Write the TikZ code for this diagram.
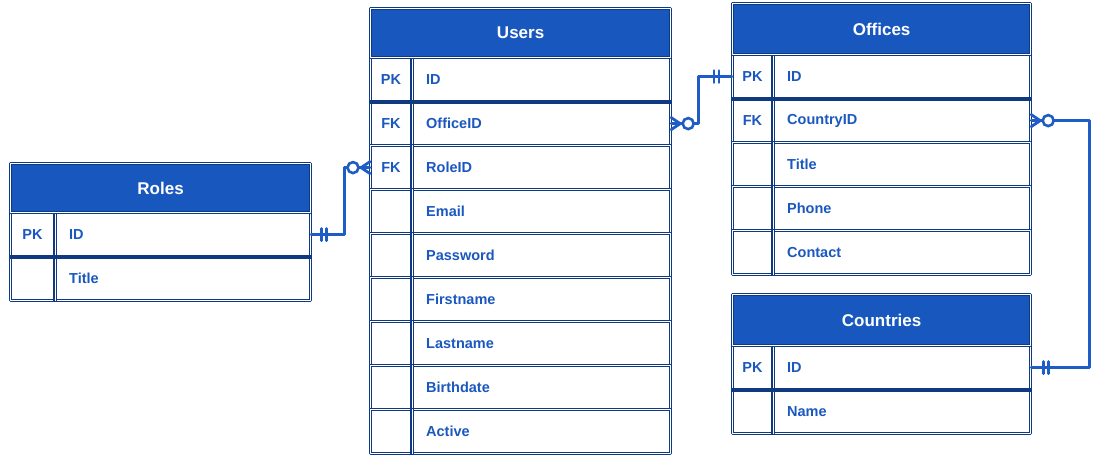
\documentclass[tikz,border=0pt]{standalone}
\usepackage{fontspec}
\setmainfont{Liberation Sans}
\definecolor{navy}{HTML}{0F3A82}
\definecolor{hblue}{HTML}{1757BE}
\definecolor{tblue}{HTML}{1A58C0}
\definecolor{cblue}{HTML}{1E5CC6}
\newcommand{\erow}[8]{%
  \node[rowbox, minimum width=#4pt, minimum height=#5pt, anchor=north west] (#1) at (#2,#3) {};
  \draw[border] ([xshift=#6pt]#1.north west) -- ([xshift=#6pt]#1.south west);
  \node[keytext] at ([xshift=#6pt/2]#1.west) {#7};
  \node[fieldtext] at ([xshift=#6pt+14pt]#1.west) {#8};
}
\begin{document}
\begin{tikzpicture}[x=1pt,y=-1pt,
  border/.style={draw=navy, line width=1.2pt, double=white, double distance=0.9pt, line join=round},
  rowbox/.style={border, fill=white, rectangle, inner sep=0pt},
  header/.style={border, fill=hblue, rectangle, inner sep=0pt, anchor=north west, text=white, font=\bfseries\fontsize{17}{20}\selectfont},
  keytext/.style={text=tblue, font=\bfseries\fontsize{14.5}{16}\selectfont, inner sep=0pt},
  fieldtext/.style={text=tblue, font=\bfseries\fontsize{14.5}{16}\selectfont, inner sep=0pt, anchor=west},
  pksep/.style={draw=navy, line width=3.5pt},
  conn/.style={draw=cblue, line width=2.8pt, line cap=round, line join=round},
  circ/.style={draw=cblue, line width=2.6pt, fill=white}
]
\useasboundingbox (0,0) rectangle (1101,468);

% Roles
\erow{roles-id}{10}{212}{300}{44}{45}{PK}{ID}
\erow{roles-title}{10}{256}{300}{44}{45}{}{Title}
\node[header, minimum width=300pt, minimum height=49pt] (roles) at (10,163) {Roles};
\draw[pksep] (roles-id.south west) -- (roles-id.south east);

% Users
\erow{users-id}{370}{57}{300}{44}{42}{PK}{ID}
\erow{users-officeid}{370}{101}{300}{44}{42}{FK}{OfficeID}
\erow{users-roleid}{370}{145}{300}{44}{42}{FK}{RoleID}
\erow{users-email}{370}{189}{300}{44}{42}{}{Email}
\erow{users-password}{370}{233}{300}{44}{42}{}{Password}
\erow{users-firstname}{370}{277}{300}{44}{42}{}{Firstname}
\erow{users-lastname}{370}{321}{300}{44}{42}{}{Lastname}
\erow{users-birthdate}{370}{365}{300}{44}{42}{}{Birthdate}
\erow{users-active}{370}{409}{300}{44}{42}{}{Active}
\node[header, minimum width=300pt, minimum height=49pt] (users) at (370,8) {Users};
\draw[pksep] (users-id.south west) -- (users-id.south east);

% Offices
\erow{offices-id}{732}{54}{298}{44}{41}{PK}{ID}
\erow{offices-countryid}{732}{98}{298}{44}{41}{FK}{CountryID}
\erow{offices-title}{732}{142}{298}{44}{41}{}{Title}
\erow{offices-phone}{732}{186}{298}{44}{41}{}{Phone}
\erow{offices-contact}{732}{230}{298}{44}{41}{}{Contact}
\node[header, minimum width=298pt, minimum height=51pt] (offices) at (732,3) {Offices};
\draw[pksep] (offices-id.south west) -- (offices-id.south east);

% Countries
\erow{countries-id}{732}{345}{298}{44}{41}{PK}{ID}
\erow{countries-name}{732}{389}{298}{44}{41}{}{Name}
\node[header, minimum width=298pt, minimum height=51pt] (countries) at (732,294) {Countries};
\draw[pksep] (countries-id.south west) -- (countries-id.south east);

% Connectors
\draw[conn] (roles-id.east) -- ++(33,0) |- (users-roleid.west);
\draw[conn] (users-officeid.east) -- ++(27,0) |- (offices-id.west);
\draw[conn] (offices-countryid.east) -- ++(58,0) |- (countries-id.east);

% one-and-only-one bars
\draw[conn] ([xshift=10pt]roles-id.east) +(0,-6) -- +(0,6);
\draw[conn] ([xshift=15pt]roles-id.east) +(0,-6) -- +(0,6);
\draw[conn] ([xshift=-13pt]offices-id.west) +(0,-6) -- +(0,6);
\draw[conn] ([xshift=-18pt]offices-id.west) +(0,-6) -- +(0,6);
\draw[conn] ([xshift=12pt]countries-id.east) +(0,-6) -- +(0,6);
\draw[conn] ([xshift=17pt]countries-id.east) +(0,-6) -- +(0,6);

% zero-or-many: crow's feet
\draw[conn] ([yshift=6pt]users-roleid.west) -- ([xshift=-9pt]users-roleid.west) -- ([yshift=-6pt]users-roleid.west);
\draw[conn] ([yshift=6pt]users-officeid.east) -- ([xshift=9pt]users-officeid.east) -- ([yshift=-6pt]users-officeid.east);
\draw[conn] ([yshift=6pt]offices-countryid.east) -- ([xshift=9pt]offices-countryid.east) -- ([yshift=-6pt]offices-countryid.east);
% circles
\draw[circ] ([xshift=-17pt]users-roleid.west) circle[radius=5.5pt];
\draw[circ] ([xshift=17pt]users-officeid.east) circle[radius=5.5pt];
\draw[circ] ([xshift=17pt]offices-countryid.east) circle[radius=5.5pt];
\end{tikzpicture}
\end{document}
